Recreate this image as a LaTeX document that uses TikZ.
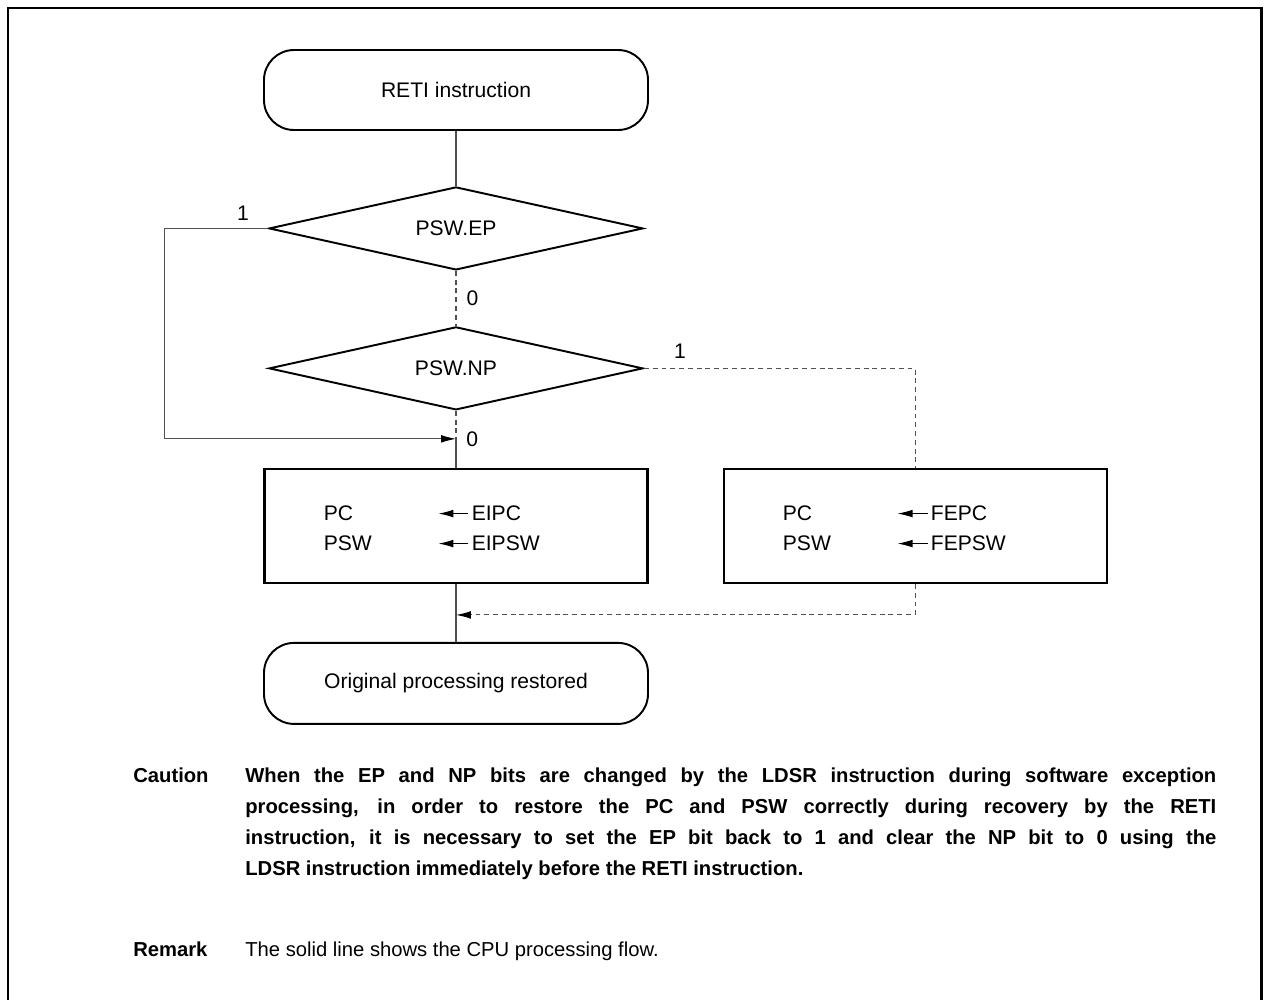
\documentclass[tikz,border=0pt]{standalone}
\usepackage{fontspec}
\setmainfont{Liberation Sans}
\usepackage{tikz}
\usetikzlibrary{
    shapes.geometric,
    arrows.meta,
    positioning,
    calc
}
\definecolor{Cline}{RGB}{80, 80, 80}
\newcommand{\ftxt}{\fontsize{12}{14.4}\selectfont}
\newcommand{\fnote}{\fontsize{11.5}{17.64}\selectfont}
\tikzset{
    fterm/.style={
        rectangle, rounded corners=0.6cm, draw=black, line width=1.1pt,
        minimum width=7.68cm, minimum height=1.6cm, font=\ftxt
    },
    fdec/.style={
        diamond, aspect=4.5, draw=black, line width=1.1pt, inner sep=0pt,
        minimum width=7.48cm, minimum height=1.66cm, font=\ftxt
    },
    fproc/.style={
        rectangle, draw=black, line width=1.2pt,
        minimum width=7.66cm, minimum height=2.28cm
    },
    ftxt/.style={font=\ftxt, inner sep=0pt, anchor=base west},
    flbl/.style={font=\ftxt, inner sep=0pt, text=black},
    fline/.style={line width=0.6pt, Cline},
    fdash/.style={fline, dash pattern=on 2.8pt off 2.2pt},
    farr/.style={-{Latex[length=8.5pt, width=4.4pt, color=black]}},
}

\begin{document}
\begin{tikzpicture}

    \useasboundingbox (0,0) rectangle (25.28,-20);
    \draw [line width=1.7pt] (0.16,-20.5) -- (0.16,-0.16) -- (25.22,-0.16) -- (25.22,-20.5);

    % flow chart
    \node [fterm] (start) at (9.12,-1.8) {RETI instruction};
    \node [fdec, below=1.1cm of start] (ep) {PSW.EP};
    \node [fdec, below=1.1cm of ep] (np) {PSW.NP};
    \node [fproc, below=1.14cm of np] (eibox) {};
    \node [fproc, right=1.48cm of eibox] (febox) {};
    \node [fterm, below=1.16cm of eibox, minimum height=1.62cm] (done) {Original processing restored};

    % register restore
    \foreach \b/\p in {eibox/EI, febox/FE} {
        \node [ftxt] (\b-pc) at ($(\b.north west)+(1.2,-1.06)$) {PC};
        \node [ftxt] (\b-psw) at ($(\b.north west)+(1.2,-1.66)$) {PSW};
        \node [ftxt] (\b-spc) at ($(\b.north west)+(4.16,-1.06)$) {\p PC};
        \node [ftxt] (\b-spsw) at ($(\b.north west)+(4.16,-1.66)$) {\p PSW};
        \draw [farr, line width=0.6pt] ($(\b-spc.west)+(-0.06,0)$) -- ++(-0.6,0);
        \draw [farr, line width=0.6pt] ($(\b-spsw.west)+(-0.06,0)$) -- ++(-0.6,0);
    }

    \coordinate (j1) at ($(np.south)+(0,-0.56)$);
    \coordinate (j2) at ($(eibox.south)+(0,-0.62)$);

    \draw [fline] (start) -- (ep);
    \draw [fdash] (ep) -- node[flbl, right=0.2cm]{0} (np);
    \draw [fline, farr] (ep.west) -- ++(-2.08,0) |- (j1);
    \node [flbl] (ep1) at ($(ep.west)+(-0.5,0.3)$) {1};
    \draw [fdash] (np) -- (j1);
    \node [flbl, right=0.2cm of j1] (np0) {0};
    \draw [fline] (j1) -- (eibox);
    \draw [fdash] (np.east) -| (febox.north);
    \node [flbl] (np1) at ($(np.east)+(0.72,0.34)$) {1};
    \draw [fline] (eibox) -- (done);
    \draw [fdash, farr] (febox.south) |- (j2);

    % notes
    \node [ftxt, font=\fnote\bfseries] (caut) at (2.66,-15.64) {Caution};
    \node [ftxt, font=\fnote\bfseries, text width=19.42cm, align=justify] (cbody) at (4.9,-15.64)
        {When the EP and NP bits are changed by the LDSR instruction during software exception\linebreak
         processing, in order to restore the PC and PSW correctly during recovery by the RETI\linebreak
         instruction, it is necessary to set the EP bit back to 1 and clear the NP bit to 0 using the\linebreak
         LDSR instruction immediately before the RETI instruction.};
    \node [ftxt, font=\fnote\bfseries] (rem) at (2.66,-19.12) {Remark};
    \node [ftxt, font=\fnote] (remtxt) at (4.9,-19.12) {The solid line shows the CPU processing flow.};

\end{tikzpicture}
\end{document}
